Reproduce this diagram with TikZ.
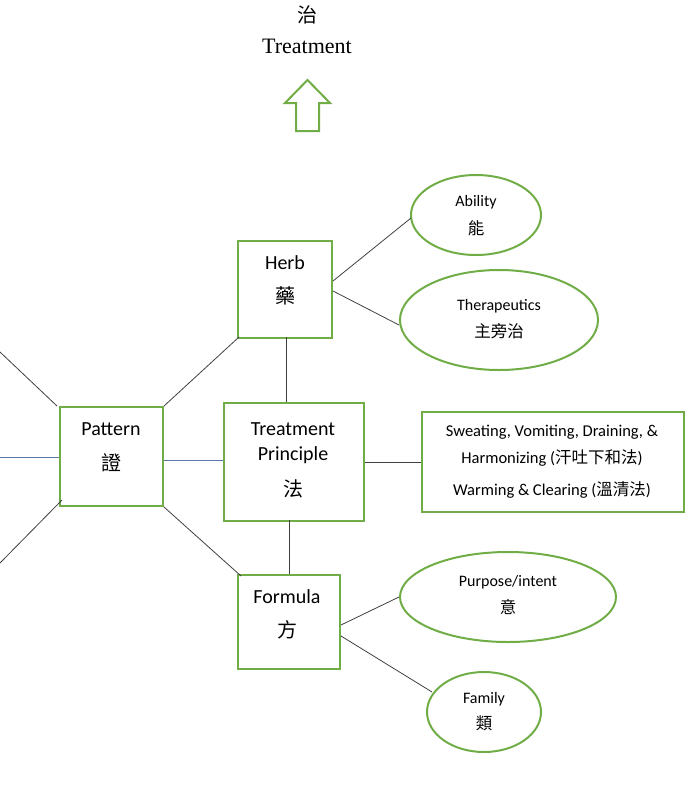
\documentclass[tikz,border=0pt]{standalone}
\usetikzlibrary{shapes.geometric}
\usepackage{fontspec}
\setmainfont{Carlito}
\newfontfamily\cjk{Noto Sans CJK TC}
\newfontfamily\serif{Liberation Serif}
\definecolor{grn}{RGB}{112,173,71}
\begin{document}
\begin{tikzpicture}[x=1pt,y=-1pt,
  gr/.style={draw=grn,line width=2pt},
  box/.style={gr,rectangle,anchor=north west,inner sep=0pt},
  ell/.style={gr,ellipse,inner sep=0pt},
  ln/.style={draw=black!75,line width=0.8pt},
  bl/.style={draw={rgb,255:red,90;green,120;blue,170},line width=0.8pt},
  t/.style={font=\fontsize{20}{22}\selectfont},
  s/.style={font=\fontsize{16.5}{18}\selectfont},
  e/.style={font=\fontsize{16}{18}\selectfont}]
\useasboundingbox (0,0) rectangle (687,801);
\node[font=\fontsize{20}{22}\selectfont] (zhi) at (307,15) {\cjk 治};
\node[font=\serif\fontsize{22}{24}\selectfont] (tr) at (307,46) {Treatment};
\draw[gr] (296,131) -- (296,103) -- (285,103) -- (307.5,80) -- (330,103) -- (319,103) -- (319,131) -- cycle;
% boxes
\node[box,minimum width=94pt,minimum height=97pt] (herb) at (237,240) {};
\node[t] at (285,263) {Herb}; \node[t] at (285,296) {\cjk 藥};
\node[box,minimum width=103pt,minimum height=99pt] (pat) at (59,406) {};
\node[t] at (111,429) {Pattern}; \node[t] at (111,463) {\cjk 證};
\node[box,minimum width=140pt,minimum height=118pt] (tp) at (223,402) {};
\node[t] at (293,429) {Treatment}; \node[t] at (293,455) {Principle}; \node[t] at (293,489) {\cjk 法};
\node[box,minimum width=262pt,minimum height=100pt] (rr) at (421,411) {};
\node[s] at (552,432) {Sweating, Vomiting, Draining, \&};
\node[s] at (552,458) {Harmonizing ({\cjk 汗吐下和法})};
\node[s] at (552,490) {Warming \& Clearing ({\cjk 溫清法})};
\node[box,minimum width=102pt,minimum height=94pt] (for) at (237,574) {};
\node[t] at (287,597) {Formula}; \node[t] at (287,630) {\cjk 方};
% ellipses
\node[ell,minimum width=130pt,minimum height=80pt] (ab) at (476,215) {};
\node[e] at (476,202) {Ability}; \node[s] at (476,228) {\cjk 能};
\node[ell,minimum width=198pt,minimum height=100pt] (th) at (499,320) {};
\node[e] at (499,306) {Therapeutics}; \node[s] at (499,331) {\cjk 主旁治};
\node[ell,minimum width=216pt,minimum height=90pt] (pu) at (508,597) {};
\node[e] at (508,582) {Purpose/intent}; \node[s] at (508,607) {\cjk 意};
\node[ell,minimum width=114pt,minimum height=80pt] (fa) at (484,712) {};
\node[e] at (484,699) {Family}; \node[s] at (484,723) {\cjk 類};
% connectors
\coordinate (l1) at (0,352); \coordinate (l2) at (0,457); \coordinate (l3) at (0,563);
\draw[ln] (herb.east |- 0,281) -- (411,218);
\draw[ln] (herb.east |- 0,291) -- (th.west |- 0,325);
\draw[ln] (286,337) -- (286,402);
\draw[ln] (pat.north east) -- (239,337);
\draw[bl] (pat.east |- 0,460) -- (tp.west |- 0,460);
\draw[ln] (pat.south east) -- (241,576);
\draw[ln] (tp.east |- 0,462) -- (rr.west |- 0,462);
\draw[ln] (289,520) -- (289,574);
\draw[ln] (for.east |- 0,625) -- (pu.west);
\draw[ln] (for.east |- 0,636) -- (432,692);
\draw[ln] (l1) -- (57,406);
\draw[bl] (l2) -- (pat.west |- 0,457);
\draw[ln] (l3) -- (62,500);
\end{tikzpicture}
\end{document}
